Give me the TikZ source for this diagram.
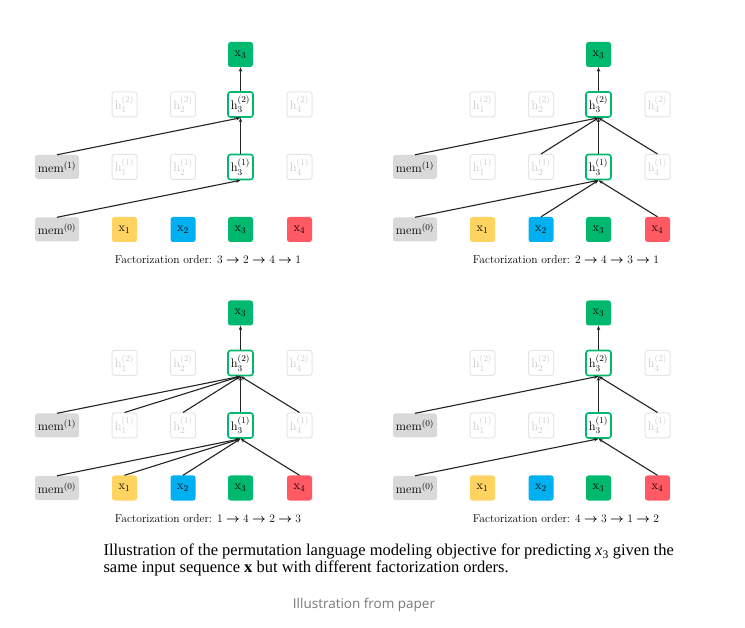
\documentclass[tikz,border=0pt]{standalone}
\usepackage{amsmath}
\usepackage{bm}
\usepackage{fontspec}
\usetikzlibrary{arrows.meta}
\newfontfamily\legendafont{Liberation Serif}
\newfontfamily\notafont{Open Sans}
\definecolor{PermAmarelo}{RGB}{255,211,95}
\definecolor{PermAzul}{RGB}{0,176,240}
\definecolor{PermVerde}{RGB}{0,185,110}
\definecolor{PermVermelho}{RGB}{255,90,100}
\definecolor{PermCinza}{RGB}{217,217,217}
\definecolor{PermApagado}{RGB}{229,229,229}
\definecolor{PermTextoApagado}{RGB}{205,205,205}
\definecolor{PermSeta}{RGB}{35,35,35}
\definecolor{PermNota}{RGB}{120,120,120}
\tikzset{
  caixa/.style={rounded corners=2.5pt, minimum width=25pt, minimum height=25pt,
                inner sep=0pt, font=\fontsize{12.5}{13}\selectfont},
  entrada/.style={caixa, fill=#1},
  oculto/.style={caixa, draw=PermApagado, line width=1pt, text=PermTextoApagado},
  alvo/.style={caixa, draw=PermVerde, line width=1.6pt, fill=white},
  memoria/.style={caixa, fill=PermCinza, minimum width=44pt, minimum height=24pt},
  seta/.style={-{Stealth[length=4.5pt,width=3.4pt]}, line width=1.1pt, PermSeta},
  rotulo/.style={font=\fontsize{11.5}{13}\selectfont},
}
\newcommand{\ordemseta}{$\;\bm{\rightarrow}\;$}

\begin{document}
\begin{tikzpicture}[x=1pt, y=-1pt]
  \fill[white] (0,0) rectangle (745,628);
  \useasboundingbox (0,0) rectangle (745,628);

  % Painel: deslocamento x, y, prefixo dos nomes, índice da memória de cima, ordem
  \newcommand{\painel}[5]{%
    \begin{scope}[shift={(#1,#2)}]
      \node[entrada=PermVerde] (#3-topo) at (240.5,54.5) {x$_3$};
      \foreach \i/\cx/\estilo in {1/124.5/oculto, 2/183/oculto, 3/240.5/alvo, 4/299.5/oculto}{
        \node[\estilo] (#3-h2\i) at (\cx,104.5) {h$_\i^{(2)}$};
        \node[\estilo] (#3-h1\i) at (\cx,167) {h$_\i^{(1)}$};
      }
      \foreach \i/\cx/\cor in {1/124.5/PermAmarelo, 2/183/PermAzul, 3/240.5/PermVerde, 4/299.5/PermVermelho}{
        \node[entrada=\cor] (#3-x\i) at (\cx,229.5) {x$_\i$};
      }
      \node[memoria] (#3-m1) at (57,167) {mem$^{(#4)}$};
      \node[memoria] (#3-m0) at (57,229.5) {mem$^{(0)}$};
      \node[rotulo] (#3-ordem) at (208,260) {Factorization order: #5};
    \end{scope}
    \draw[seta] (#3-h23.north) -- (#3-topo.south);
    \draw[seta] (#3-h13.north) -- (#3-h23.south);
    \draw[seta] (#3-m1.north) -- (#3-h23.south);
    \draw[seta] (#3-m0.north) -- (#3-h13.south);}

  % Quatro ordens de fatoração
  \painel{0}{0}{a}{1}{3\ordemseta2\ordemseta4\ordemseta1}
  \painel{358}{0}{b}{1}{2\ordemseta4\ordemseta3\ordemseta1}
  \painel{0}{258.5}{c}{1}{1\ordemseta4\ordemseta2\ordemseta3}
  \painel{358}{258.5}{d}{0}{4\ordemseta3\ordemseta1\ordemseta2}

  % Conexões que dependem da ordem
  \foreach \s in {x2,x4} \draw[seta] (b-\s.north) -- (b-h13.south);
  \foreach \s in {h12,h14} \draw[seta] (b-\s.north) -- (b-h23.south);
  \foreach \s in {x1,x2,x4} \draw[seta] (c-\s.north) -- (c-h13.south);
  \foreach \s in {h11,h12,h14} \draw[seta] (c-\s.north) -- (c-h23.south);
  \draw[seta] (d-x4.north) -- (d-h13.south);
  \draw[seta] (d-h14.north) -- (d-h23.south);

  % Legenda
  \node[anchor=base west, font=\legendafont\fontsize{16.5}{18}\selectfont] (leg1) at (100,555.7)
    {Illustration of the permutation language modeling objective for predicting {\itshape x}\textsubscript{3} given the};
  \node[anchor=base west, font=\legendafont\fontsize{16.5}{18}\selectfont] (leg2) at (100,572)
    {same input sequence \textbf{x} but with different factorization orders.};
  \node[font=\notafont\fontsize{13.5}{15}\selectfont, text=PermNota] (nota) at (364,605) {Illustration from paper};
\end{tikzpicture}
\end{document}
